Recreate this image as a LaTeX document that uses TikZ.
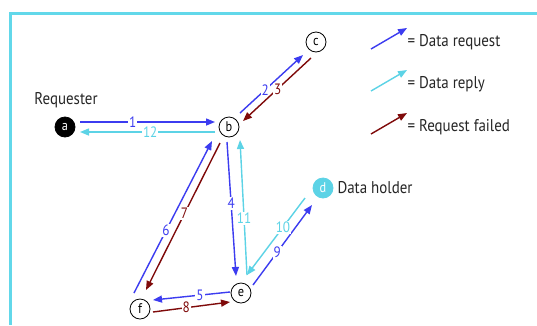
\documentclass[tikz,border=0pt]{standalone}
\usepackage{fontspec}
\setmainfont{PT Sans}
\newfontfamily\narrowfont[FakeStretch=0.88]{PT Sans}
\usetikzlibrary{arrows.meta,calc}
\definecolor{reqblue}{HTML}{3C3CF0}
\definecolor{repcyan}{HTML}{5CD3E6}
\definecolor{failred}{HTML}{7F0A0A}
\definecolor{framecyan}{HTML}{62D8EA}
\begin{document}
\begin{tikzpicture}[x=1pt,y=-1pt,
 nd/.style={circle,draw=black,line width=0.8pt,fill=white,minimum size=20pt,inner sep=0pt,font=\narrowfont\fontsize{14}{14}\selectfont},
 link/.style={line width=1.4pt,-{Triangle[length=9pt,width=7pt]}},
 req/.style={link,reqblue},
 rep/.style={link,repcyan},
 fail/.style={link,failred},
 lab/.style={fill=white,inner sep=1pt,font=\narrowfont\fontsize{15}{15}\selectfont},
 txt/.style={font=\narrowfont\fontsize{17}{17}\selectfont,text=black!85}
]
\useasboundingbox (0,0) rectangle (537,325);
\fill[white] (0,0) rectangle (537,325);
\draw[framecyan,line width=3pt] (10,325) -- (10,13) -- (537,13);

% nodes
\node[nd,fill=black,text=white] (a) at (65,127) {a};
\node[nd] (b) at (229,127) {b};
\node[nd] (c) at (316,42) {c};
\node[nd,draw=repcyan,fill=repcyan,text=white] (d) at (323,188) {d};
\node[nd] (e) at (241,293) {e};
\node[nd] (f) at (140,309) {f};

\node[txt] (reqlbl) at (66,100) {Requester};
\node[txt,anchor=west] (holder) at (334,188) {Data holder};

% connectors
\draw[req]  ($(a)+(15,-5)$) -- node[lab,pos=0.39]{1} ($(b)+(-14,-5)$);
\draw[rep]  ($(b)+(-14,5)$) -- node[lab,pos=0.48]{12} ($(a)+(15,5)$);
\draw[req]  ($(b)+(11,-14)$) -- node[lab,pos=0.40]{2} ($(c)+(-13,13)$);
\draw[fail] ($(c)+(-5,16)$) -- node[lab,pos=0.49]{3} ($(b)+(14,-6)$);
\draw[req]  ($(b)+(-2,15)$) -- node[lab,pos=0.46]{4} ($(e)+(-5,-17)$);
\draw[rep]  ($(e)+(6,-18)$) -- node[lab,pos=0.42]{11} ($(b)+(11,13)$);
\draw[req]  ($(e)+(-11,-1)$) -- node[lab,pos=0.39]{5} ($(f)+(13,-9)$);
\draw[fail] ($(f)+(13,3)$) -- node[lab,pos=0.43]{8} ($(e)+(-11,9)$);
\draw[req]  ($(f)+(-6,-16)$) -- node[lab,pos=0.41]{6} ($(b)+(-17,14)$);
\draw[fail] ($(b)+(-9,16)$) -- node[lab,pos=0.48]{7} ($(f)+(6,-19)$);
\draw[req]  ($(e)+(12,-8)$) -- node[lab,pos=0.41]{9} ($(d)+(-11,17)$);
\draw[rep]  ($(d)+(-18,10)$) -- node[lab,pos=0.38]{10} ($(e)+(6,-18)$);

% legend
\coordinate (l1s) at (371,49); \coordinate (l1e) at (407,28);
\coordinate (l2s) at (371,91); \coordinate (l2e) at (407,70);
\coordinate (l3s) at (371,134); \coordinate (l3e) at (407,113);
\draw[req] (l1s) -- (l1e);
\draw[rep] (l2s) -- (l2e);
\draw[fail] (l3s) -- (l3e);
\node[txt,anchor=west] (t1) at (404,42) {= Data request};
\node[txt,anchor=west] (t2) at (404,84) {= Data reply};
\node[txt,anchor=west] (t3) at (404,127) {= Request failed};
\end{tikzpicture}
\end{document}
